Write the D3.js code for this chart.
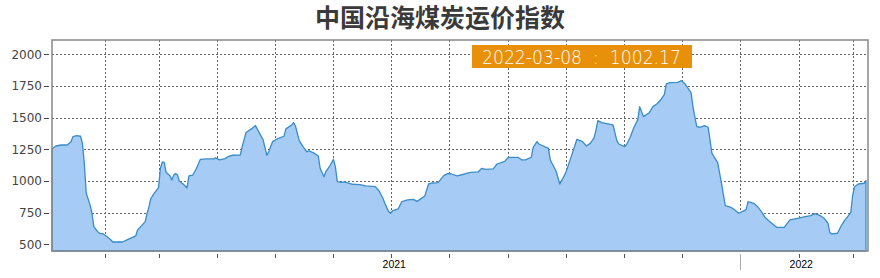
<!DOCTYPE html>
<html>
<head>
<meta charset="utf-8">
<script src="https://cdn.jsdelivr.net/npm/d3@7"></script>
<style>
  html, body { margin: 0; padding: 0; background: #fff; }
</style>
</head>
<body>
<div id="chart"></div>
<script>
const title = '中国沿海煤炭运价指数';

const dates = [
  '2021-01-04', '2021-01-06', '2021-01-09', '2021-01-12', '2021-01-14', '2021-01-15', '2021-01-17', '2021-01-19',
  '2021-01-20', '2021-01-21', '2021-01-22', '2021-01-24', '2021-01-25', '2021-01-26', '2021-01-28', '2021-01-29',
  '2021-01-31', '2021-02-02', '2021-02-04', '2021-02-05', '2021-02-10', '2021-02-13', '2021-02-17', '2021-02-18',
  '2021-02-20', '2021-02-22', '2021-02-23', '2021-02-24', '2021-02-25', '2021-02-27', '2021-03-01', '2021-03-02',
  '2021-03-03', '2021-03-04', '2021-03-05', '2021-03-07', '2021-03-08', '2021-03-09', '2021-03-10', '2021-03-11',
  '2021-03-12', '2021-03-14', '2021-03-16', '2021-03-17', '2021-03-19', '2021-03-21', '2021-03-23', '2021-03-26',
  '2021-03-30', '2021-03-31', '2021-04-02', '2021-04-05', '2021-04-07', '2021-04-09', '2021-04-13', '2021-04-14',
  '2021-04-16', '2021-04-19', '2021-04-21', '2021-04-22', '2021-04-25', '2021-04-26', '2021-04-27', '2021-04-28',
  '2021-04-30', '2021-05-03', '2021-05-06', '2021-05-07', '2021-05-10', '2021-05-11', '2021-05-12', '2021-05-14',
  '2021-05-16', '2021-05-18', '2021-05-19', '2021-05-22', '2021-05-24', '2021-05-25', '2021-05-27', '2021-05-28',
  '2021-05-30', '2021-06-01', '2021-06-02', '2021-06-03', '2021-06-05', '2021-06-07', '2021-06-11', '2021-06-15',
  '2021-06-18', '2021-06-23', '2021-06-25', '2021-06-27', '2021-06-28', '2021-06-30', '2021-07-01', '2021-07-02',
  '2021-07-05', '2021-07-07', '2021-07-10', '2021-07-13', '2021-07-15', '2021-07-19', '2021-07-21', '2021-07-23',
  '2021-07-26', '2021-07-29', '2021-07-31', '2021-08-02', '2021-08-05', '2021-08-09', '2021-08-12', '2021-08-16',
  '2021-08-18', '2021-08-20', '2021-08-24', '2021-08-26', '2021-08-30', '2021-09-01', '2021-09-06', '2021-09-08',
  '2021-09-10', '2021-09-13', '2021-09-14', '2021-09-16', '2021-09-17', '2021-09-22', '2021-09-23', '2021-09-26',
  '2021-09-28', '2021-10-01', '2021-10-04', '2021-10-07', '2021-10-10', '2021-10-12', '2021-10-14', '2021-10-16',
  '2021-10-17', '2021-10-18', '2021-10-20', '2021-10-22', '2021-10-26', '2021-10-28', '2021-10-29', '2021-11-01',
  '2021-11-02', '2021-11-04', '2021-11-06', '2021-11-08', '2021-11-09', '2021-11-11', '2021-11-14', '2021-11-16',
  '2021-11-18', '2021-11-20', '2021-11-22', '2021-11-23', '2021-11-25', '2021-11-29', '2021-12-01', '2021-12-03',
  '2021-12-06', '2021-12-07', '2021-12-09', '2021-12-11', '2021-12-13', '2021-12-15', '2021-12-17', '2021-12-20',
  '2021-12-22', '2021-12-24', '2021-12-27', '2021-12-29', '2021-12-31', '2022-01-03', '2022-01-04', '2022-01-05',
  '2022-01-08', '2022-01-10', '2022-01-12', '2022-01-14', '2022-01-16', '2022-01-20', '2022-01-24', '2022-01-27',
  '2022-01-31', '2022-02-04', '2022-02-07', '2022-02-09', '2022-02-12', '2022-02-14', '2022-02-16', '2022-02-17',
  '2022-02-18', '2022-02-21', '2022-02-23', '2022-02-25', '2022-02-28', '2022-03-01', '2022-03-02', '2022-03-04',
  '2022-03-07', '2022-03-08'
];

const values = [
  1255, 1276, 1284, 1284, 1310, 1350, 1358, 1353,
  1297, 1139, 903, 811, 745, 640, 600, 587,
  582, 560, 534, 518, 518, 539, 566, 613,
  645, 679, 745, 797, 863, 908, 947, 1100,
  1150, 1147, 1068, 1042, 1008, 1047, 1058, 1047,
  997, 976, 945, 1040, 1047, 1100, 1171, 1174,
  1174, 1182, 1166, 1176, 1195, 1203, 1205, 1271,
  1382, 1413, 1437, 1408, 1324, 1261, 1203, 1232,
  1311, 1337, 1353, 1411, 1442, 1461, 1434, 1318,
  1271, 1229, 1239, 1218, 1197, 1100, 1034, 1074,
  1118, 1171, 1113, 995, 989, 992, 974, 971,
  961, 955, 921, 863, 824, 758, 745, 763,
  779, 837, 850, 855, 839, 882, 976, 984,
  987, 1042, 1058, 1055, 1040, 1055, 1068, 1071,
  1100, 1092, 1095, 1134, 1155, 1187, 1187, 1166,
  1166, 1187, 1266, 1311, 1292, 1258, 1166, 1079,
  976, 1060, 1192, 1329, 1311, 1276, 1297, 1340,
  1400, 1476, 1461, 1455, 1442, 1318, 1292, 1271,
  1284, 1345, 1424, 1482, 1587, 1508, 1539, 1587,
  1608, 1639, 1684, 1766, 1776, 1779, 1792, 1763,
  1697, 1587, 1429, 1424, 1437, 1424, 1218, 1145,
  982, 805, 792, 771, 745, 766, 776, 837,
  824, 797, 758, 711, 684, 634, 634, 692,
  705, 718, 726, 742, 726, 705, 666, 592,
  582, 587, 647, 692, 750, 889, 955, 976,
  982, 1002.17
];

const yTicks = [500, 750, 1000, 1250, 1500, 1750, 2000];
const yearLabels = ['2021', '2022'];
const latestDate = dates[dates.length - 1];
const latestValue = values[values.length - 1].toFixed(2);

const width = 880;
const height = 278;
const plot = { left: 52, right: 868, top: 40, bottom: 251 };

const parse = d3.timeParse('%Y-%m-%d');
const data = dates.map((d, i) => ({ date: parse(d), value: values[i] }));

const svg = d3.select('#chart')
  .append('svg')
  .attr('width', width)
  .attr('height', height)
  .style('display', 'block');

const x = d3.scaleTime()
  .domain(d3.extent(data, d => d.date))
  .range([plot.left, plot.right - 2]);

const y = d3.scaleLinear()
  .domain([447, 2113])
  .range([plot.bottom, plot.top]);

const months = d3.timeMonth.range(d3.timeMonth.ceil(x.domain()[0]), x.domain()[1]);

// title
svg.append('text')
  .attr('x', 440)
  .attr('y', 26.5)
  .attr('text-anchor', 'middle')
  .style('font-family', '"Noto Sans CJK SC", sans-serif')
  .style('font-size', '25px')
  .style('font-weight', 'bold')
  .style('fill', '#3a3a3a')
  .text(title);

// grid
const grid = svg.append('g')
  .attr('stroke', '#666')
  .attr('stroke-width', 1)
  .attr('stroke-dasharray', '2,2');

grid.selectAll('.hgrid')
  .data(yTicks)
  .enter()
  .append('line')
  .attr('x1', plot.left)
  .attr('x2', plot.right)
  .attr('y1', d => Math.round(y(d)) + 0.5)
  .attr('y2', d => Math.round(y(d)) + 0.5);

grid.selectAll('.vgrid')
  .data(months)
  .enter()
  .append('line')
  .attr('x1', d => Math.round(x(d)) + 0.5)
  .attr('x2', d => Math.round(x(d)) + 0.5)
  .attr('y1', plot.top)
  .attr('y2', plot.bottom);

// area
const area = d3.area()
  .x(d => x(d.date))
  .y0(plot.bottom)
  .y1(d => y(d.value));

svg.append('path')
  .datum(data)
  .attr('d', area)
  .attr('fill', '#a6cbf5')
  .attr('stroke', '#3a8cc6')
  .attr('stroke-width', 1.3)
  .attr('stroke-linejoin', 'round');

// frame
svg.append('rect')
  .attr('x', plot.left)
  .attr('y', plot.top)
  .attr('width', plot.right - plot.left)
  .attr('height', plot.bottom - plot.top)
  .attr('fill', 'none')
  .attr('stroke', '#888')
  .attr('stroke-width', 1.5);

// y axis
const yAxis = svg.append('g');
yAxis.selectAll('line')
  .data(yTicks)
  .enter()
  .append('line')
  .attr('x1', 44)
  .attr('x2', 49)
  .attr('y1', d => Math.round(y(d)) + 0.5)
  .attr('y2', d => Math.round(y(d)) + 0.5)
  .attr('stroke', '#444');

yAxis.selectAll('text')
  .data(yTicks)
  .enter()
  .append('text')
  .attr('x', 42)
  .attr('y', d => y(d) + 4.5)
  .attr('text-anchor', 'end')
  .style('font-family', '"DejaVu Sans", sans-serif')
  .style('font-size', '12px')
  .style('fill', '#444')
  .text(d => d);

// x axis
const xAxis = svg.append('g');
xAxis.selectAll('line')
  .data(months)
  .enter()
  .append('line')
  .attr('x1', d => Math.round(x(d)) + 0.5)
  .attr('x2', d => Math.round(x(d)) + 0.5)
  .attr('y1', 254)
  .attr('y2', 258)
  .attr('stroke', '#555');

const yearStarts = months.filter(d => d.getMonth() === 0);
xAxis.selectAll('.yearsep')
  .data(yearStarts)
  .enter()
  .append('line')
  .attr('x1', d => Math.round(x(d)) + 0.5)
  .attr('x2', d => Math.round(x(d)) + 0.5)
  .attr('y1', 254)
  .attr('y2', 270)
  .attr('stroke', '#aaa');

xAxis.selectAll('text')
  .data(yearLabels)
  .enter()
  .append('text')
  .attr('x', d => {
    const y0 = new Date(+d, 0, 1);
    const y1 = new Date(+d + 1, 0, 1);
    const a = Math.max(x(y0), x.range()[0]);
    const b = Math.min(x(y1), x.range()[1]);
    return (a + b) / 2 - 2;
  })
  .attr('y', 268)
  .attr('text-anchor', 'middle')
  .style('font-family', '"Liberation Sans", Arial, sans-serif')
  .style('font-size', '10.5px')
  .style('fill', '#000')
  .text(d => d);

// latest value badge
svg.append('rect')
  .attr('x', 472)
  .attr('y', 45)
  .attr('width', 220)
  .attr('height', 23)
  .attr('fill', '#e8900a');

svg.append('text')
  .attr('x', 482)
  .attr('y', 63.5)
  .attr('textLength', 199)
  .attr('lengthAdjust', 'spacingAndGlyphs')
  .style('font-family', '"DejaVu Sans", sans-serif')
  .style('font-size', '19px')
  .style('font-weight', '300')
  .style('fill', '#fff')
  .text(`${latestDate}\u00a0\u00a0:\u00a0\u00a0${latestValue}`);
</script>
</body>
</html>
